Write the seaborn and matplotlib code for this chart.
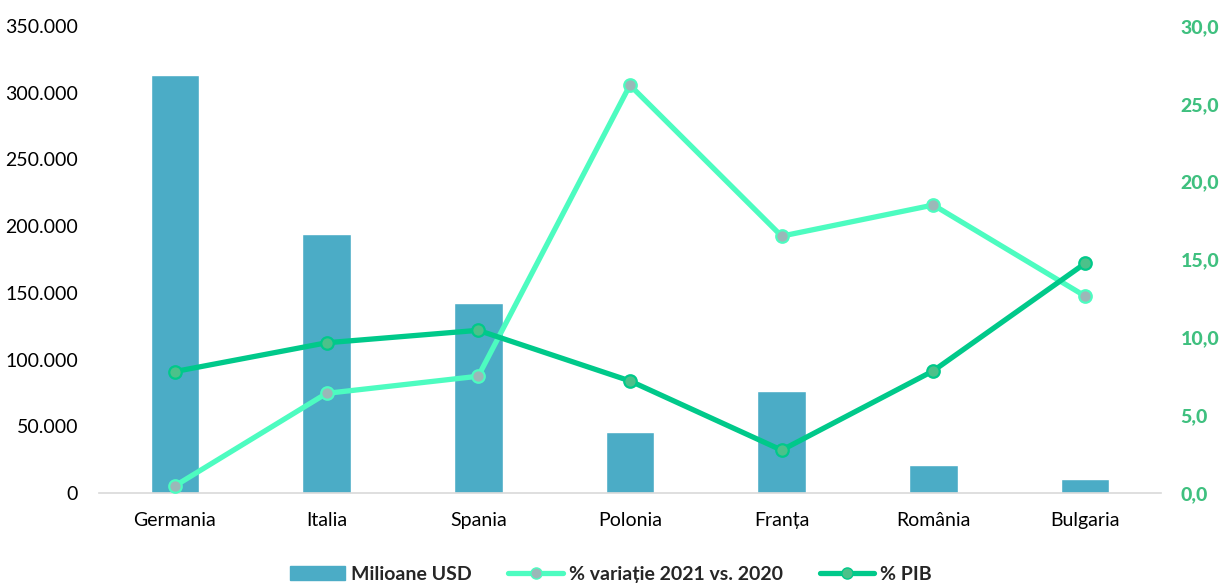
import numpy as np
import pandas as pd
import matplotlib.pyplot as plt
import seaborn as sns
from matplotlib.lines import Line2D
from matplotlib.patches import Patch
from matplotlib.ticker import FuncFormatter, MultipleLocator

tari = ["Germania", "Italia", "Spania", "Polonia", "Franța", "România", "Bulgaria"]
milioane_usd = [313000, 194000, 142500, 45700, 76500, 21000, 10500]
variatie = [0.45, 6.4, 7.5, 26.2, 16.5, 18.5, 12.65]
pib = [7.8, 9.65, 10.45, 7.2, 2.75, 7.85, 14.75]
ticks_dreapta = [0, 5, 10, 15, 20, 25, 30]

C_BAR = "#4BACC6"
C_VAR = "#4DFCC0"
C_PIB = "#00C98A"
C_RIGHT = "#3FC07F"

sns.set_style("white")
plt.rcParams['font.family'] = ['Lato', 'DejaVu Sans']

df = pd.DataFrame({"tara": tari, "usd": milioane_usd, "var": variatie, "pib": pib})

fig = plt.figure(figsize=(12.22, 5.83), dpi=100)
ax = fig.add_axes([0.081, 0.1544, 0.869, 0.801])
sns.barplot(data=df, x="tara", y="usd", color=C_BAR, width=0.32, saturation=1, ax=ax)
ax.set_ylim(0, 350000)
ax.set_xlim(-0.5, 6.5)
ax.yaxis.set_major_locator(MultipleLocator(50000))
ax.yaxis.set_major_formatter(FuncFormatter(lambda v, p: f"{int(v):,}".replace(",", ".")))
ax.set_xlabel("")
ax.set_ylabel("")
ax.tick_params(axis="both", length=0, labelsize=14, colors="#000000")
ax.tick_params(axis="x", pad=14)
ax.tick_params(axis="y", pad=15)
for s in ["top", "right", "left"]:
    ax.spines[s].set_visible(False)
ax.spines["bottom"].set_color("#D9D9D9")
ax.spines["bottom"].set_linewidth(1.2)

ax2 = ax.twinx()
x = np.arange(len(tari))
sns.lineplot(x=x, y=variatie, color=C_VAR, linewidth=3.8, marker="o", markersize=9,
             markerfacecolor="#9BB8B8", markeredgecolor=C_VAR, markeredgewidth=1.6, ax=ax2)
sns.lineplot(x=x, y=pib, color=C_PIB, linewidth=3.8, marker="o", markersize=9,
             markerfacecolor="#4CC18A", markeredgecolor=C_PIB, markeredgewidth=1.6, ax=ax2)
ax2.set_ylim(0, 30)
ax2.set_xlim(-0.5, 6.5)
ax2.tick_params(axis="y", length=0, pad=14)
ax2.set_yticks(ticks_dreapta)
ax2.set_yticklabels([f"{v:.1f}".replace(".", ",") for v in ticks_dreapta],
                    fontdict={"fontweight": "black", "fontsize": 14, "color": C_RIGHT})
for s in ax2.spines.values():
    s.set_visible(False)

handles = [
    Patch(facecolor=C_BAR, edgecolor=C_BAR),
    Line2D([0], [0], color=C_VAR, lw=3.8, marker="o", markersize=8,
           markerfacecolor="#9BB8B8", markeredgecolor=C_VAR),
    Line2D([0], [0], color=C_PIB, lw=3.8, marker="o", markersize=8,
           markerfacecolor="#4CC18A", markeredgecolor=C_PIB),
]
labels = ["Milioane USD", "% variație 2021 vs. 2020", "% PIB"]
leg = fig.legend(handles, labels, loc="lower center", bbox_to_anchor=(0.5, -0.03), ncol=3,
                 frameon=False, prop={"weight": "bold", "size": 14}, handlelength=2.8,
                 handletextpad=0.3, columnspacing=1.9)

fig.savefig("out.png", dpi=100)
